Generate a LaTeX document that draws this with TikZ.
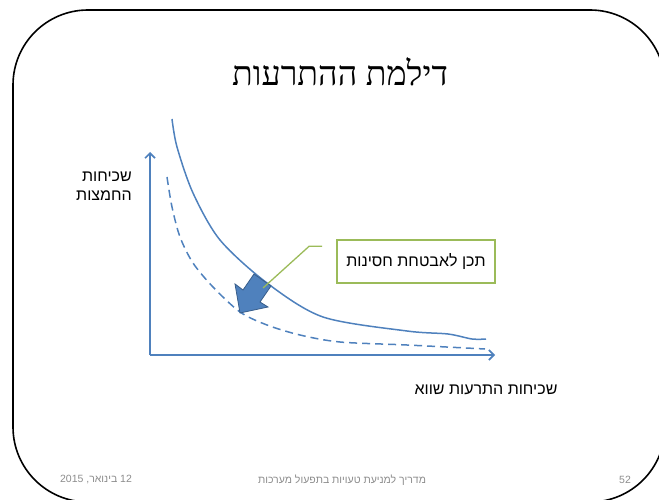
\documentclass[tikz,border=0pt]{standalone}
\usepackage{fontspec}
\usepackage{tikz}
\usetikzlibrary{positioning,arrows.meta,calc}
\TeXXeTstate=1
\setmainfont{Liberation Sans}
\newfontfamily\hebsans[Script=Hebrew]{Liberation Sans}
\newfontfamily\hebserif[Script=Hebrew]{Liberation Serif}
\definecolor{slideblue}{RGB}{79,129,189}
\definecolor{slidenavy}{RGB}{56,93,138}
\definecolor{slidegreen}{RGB}{155,187,89}
\definecolor{footgray}{RGB}{140,140,140}

\begin{document}
\begin{tikzpicture}[x=1pt,y=-1pt,
    axis/.style={draw=slideblue, line width=1.6pt, -{Straight Barb[length=5pt,width=10pt]}},
    curve/.style={draw=slideblue, line width=1.5pt, smooth},
    lbl/.style={font=\hebsans\fontsize{16}{19}\selectfont, inner sep=0},
    foot/.style={font=\hebsans\fontsize{10.5}{13}\selectfont, text=footgray, inner sep=0}]
  \useasboundingbox (0,0) rectangle (659,500);
  % slide frame
  \draw[line width=1.6pt, rounded corners=75pt] (13,10) rectangle (665,502);
  \node[font=\hebserif\fontsize{34}{40}\selectfont] (title) at (340,72) {\beginR דילמת ההתרעות\endR};

  % axes
  \coordinate (origin) at (150,355);
  \coordinate (ytop) at (150,152);
  \coordinate (xend) at (495,355);
  \draw[axis] (origin) -- (ytop);
  \draw[axis] (origin) -- (xend);

  % curves
  \draw[curve] plot coordinates {(172,119) (177,147) (193,193) (220,240) (267,283) (323,317) (407,331) (448,334) (472,339) (486,339)};
  \draw[curve, dash pattern=on 8pt off 5pt] plot coordinates {(167,177) (172,207) (180,237) (193,263) (213,287) (240,312) (267,325) (300,335) (340,342) (407,345) (485,349)};

  % shift arrow
  \filldraw[fill=slideblue, draw=slidenavy, line width=0.8pt]
    (240,313) -- (235,284) -- (243,290) -- (254,274) -- (271,286) -- (260,302) -- (268,307) -- cycle;

  % callout
  \node[lbl, draw=slidegreen, line width=1.6pt, minimum width=158pt, minimum height=43pt] (box) at (416,261.5) {\beginR תכן לאבטחת חסינות\endR};
  \coordinate (calltip) at (263,288);
  \draw[slidegreen, line width=1.3pt] ($(box.north west)+(-14,7)$) -- ++(-13,0) -- (calltip);

  % axis labels
  \node[lbl, align=right, anchor=north east] (ylabel) at (132,172) {\beginR שכיחות\endR\\\beginR החמצות\endR};
  \node[lbl] (xlabel) at (486,390) {\beginR שכיחות התרעות שווא\endR};

  % footer
  \node[foot] (date) at (96,480) {\beginR\beginL 12\endL{} בינואר, \beginL 2015\endL\endR};
  \node[foot] (course) at (342,480) {\beginR מדריך למניעת טעויות בתפעול מערכות\endR};
  \node[foot] (pagenum) at (625,480) {52};
\end{tikzpicture}
\end{document}
